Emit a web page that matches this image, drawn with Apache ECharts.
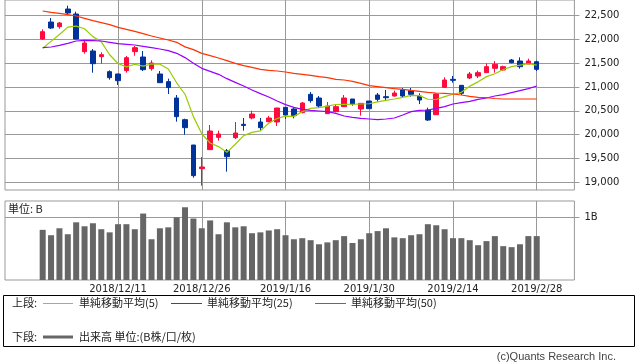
<!DOCTYPE html>
<html><head><meta charset="utf-8">
<script src="https://cdn.jsdelivr.net/npm/echarts@6/dist/echarts.min.js"></script>
<style>html,body{margin:0;padding:0;background:#fff}#c{width:638px;height:362px}</style>
</head><body><div id="c"></div>
<script>
// ---- data ----
const dates = ['2018/11/28','2018/11/29','2018/11/30','2018/12/3','2018/12/4','2018/12/5','2018/12/6','2018/12/7','2018/12/10','2018/12/11',
'2018/12/12','2018/12/13','2018/12/14','2018/12/17','2018/12/18','2018/12/19','2018/12/20','2018/12/21','2018/12/25','2018/12/26',
'2018/12/27','2018/12/28','2019/1/4','2019/1/7','2019/1/8','2019/1/9','2019/1/10','2019/1/11','2019/1/15','2019/1/16',
'2019/1/17','2019/1/18','2019/1/21','2019/1/22','2019/1/23','2019/1/24','2019/1/25','2019/1/28','2019/1/29','2019/1/30',
'2019/1/31','2019/2/1','2019/2/4','2019/2/5','2019/2/6','2019/2/7','2019/2/8','2019/2/12','2019/2/13','2019/2/14',
'2019/2/15','2019/2/18','2019/2/19','2019/2/20','2019/2/21','2019/2/22','2019/2/25','2019/2/26','2019/2/27','2019/2/28'];

const open  = [22010,22367,22269,22640,22535,21744,21758,21639,21324,21275, 21345,21744,21632,21387,21275,21114,20771,20316,19784,19287,
               19686,19945,19665,19938,20218,20351,20267,20274,20267,20575, 20540,20463,20848,20771,20442,20484,20589,20750,20540,20708,
               20834,20799,20813,20939,20925,20813,20519,20421,20995,21163, 21037,21191,21233,21303,21394,21359,21569,21548,21485,21534];
const close = [22164,22241,22346,22556,22010,21926,21492,21681,21198,21135, 21618,21828,21366,21506,21093,20990,20379,20148,19140,19322,
               20078,20015,19539,20036,20195,20435,20148,20351,20561,20414, 20400,20666,20715,20603,20603,20589,20771,20645,20659,20547,
               20743,20778,20876,20813,20848,20729,20309,20855,21149,21142, 20869,21275,21303,21429,21478,21429,21513,21429,21548,21373];
const low   = [21995,22220,22227,22514,22000,21702,21303,21492,21156,21044, 21303,21660,21338,21345,21085,20855,20274,20001,19098,18930,
               19686,19875,19224,19910,20085,20323,20085,20260,20183,20330, 20344,20449,20673,20561,20442,20470,20589,20610,20400,20547,
               20694,20708,20799,20785,20799,20645,20288,20421,20995,21093, 20834,21170,21191,21303,21303,21345,21499,21387,21485,21338];
const high  = [22213,22451,22367,22710,22584,21975,21800,21730,21352,21280, 21653,21863,21758,21562,21338,21177,20834,20337,19784,19532,
               20204,20085,19700,20267,20351,20505,20351,20393,20561,20575, 20575,20687,20897,20813,20687,20631,20834,20750,20659,20708,
               20876,20939,20925,20981,20981,20869,20568,20869,21205,21233, 21037,21317,21345,21499,21548,21450,21590,21625,21597,21555];

const ma5  = [21814,21960,22105,22260,22280,22225,22060,21950,21680,21495, 21425,21480,21440,21485,21480,21380,21090,20850,20380,20020,
              19825,19750,19630,19800,19980,20050,20080,20240,20340,20390, 20385,20485,20555,20570,20600,20635,20638,20640,20645,20650,
              20690,20720,20750,20785,20827,20820,20745,20740,20800,20850, 20890,21020,21110,21220,21280,21370,21430,21460,21490,21460];
const ma25 = [21828,21842,21877,21919,21968,21982,21975,21968,21940,21912, 21898,21884,21856,21828,21800,21765,21709,21619,21499,21394,
              21331,21268,21177,21100,21023,20939,20862,20792,20708,20631, 20575,20533,20512,20498,20484,20449,20393,20365,20344,20330,
              20316,20330,20351,20414,20484,20512,20519,20554,20589,20645, 20673,20701,20743,20771,20813,20841,20883,20925,20967,21023];
const ma50 = [22598,22570,22549,22521,22493,22444,22395,22353,22311,22255, 22213,22171,22122,22073,22031,21989,21940,21845,21786,21709,
              21660,21611,21555,21499,21450,21415,21373,21352,21338,21317, 21289,21268,21247,21219,21198,21163,21149,21121,21079,21030,
              21009,20988,20967,20953,20932,20911,20890,20876,20869,20855, 20834,20806,20785,20778,20760,20750,20750,20750,20750,20750];

// volume in billions of shares
const volume = [0.80,0.714,0.825,0.73,0.92,0.857,0.905,0.81,0.76,0.89, 0.89,0.81,1.06,0.65,0.825,0.84,1.0,1.16,0.98,0.825,
                0.95,0.73,0.92,0.84,0.857,0.746,0.76,0.79,0.81,0.714, 0.65,0.667,0.635,0.57,0.60,0.635,0.70,0.59,0.65,0.746,
                0.78,0.825,0.68,0.667,0.714,0.73,0.89,0.873,0.81,0.667, 0.667,0.635,0.555,0.62,0.70,0.54,0.524,0.57,0.70,0.70];

const xTickLabels = ['2018/12/11','2018/12/26','2019/1/16','2019/1/30','2019/2/14','2019/2/28'];
const priceTicks = [19000,19500,20000,20500,21000,21500,22000,22500];
const volTicks = [1];
const seriesNames = ['単純移動平均(5)','単純移動平均(25)','単純移動平均(50)'];

// ---- build ----
const PAD = 4;
const cats = Array.from({length: PAD}, (_, i) => 'padL' + i)
  .concat(dates, Array.from({length: PAD}, (_, i) => 'padR' + i));
const padArr = (arr, empty) => Array(PAD).fill(empty).concat(arr, Array(PAD).fill(empty));
const candleData = padArr(dates.map((d, i) => [open[i], close[i], low[i], high[i]]), ['-','-','-','-']);
const isLabel = (idx, val) => xTickLabels.indexOf(val) >= 0;

const GRID_LEFT = 5, GRID_W = 569.4;
const gray = '#999';
const fmt = v => String(v).replace(/\B(?=(\d{3})+(?!\d))/g, ',');
const axisFont = {fontFamily: 'DejaVu Sans', fontSize: 10, color: '#222'};
const cjk = '"Noto Sans CJK JP", sans-serif';

function xAxisFor(gi, showLabels) {
  return {
    type: 'category', gridIndex: gi, data: cats, boundaryGap: true,
    axisLine: {show: false}, axisTick: {show: false},
    axisLabel: Object.assign({show: showLabels, interval: isLabel, margin: 4}, axisFont),
    splitLine: {show: true, interval: isLabel, alignWithLabel: true, lineStyle: {color: gray, width: 1}}
  };
}

const option = {
  animation: false,
  backgroundColor: '#fff',
  grid: [
    {left: GRID_LEFT, width: GRID_W, top: 0, height: 190, show: true, borderColor: gray, borderWidth: 1},
    {left: GRID_LEFT, width: GRID_W, top: 201, height: 79, show: true, borderColor: gray, borderWidth: 1}
  ],
  xAxis: [xAxisFor(0, false), xAxisFor(1, true)],
  yAxis: [
    {type: 'value', gridIndex: 0, position: 'right', min: 18839, max: 22829,
     axisLine: {show: false},
     axisTick: {show: true, length: 5, customValues: priceTicks, lineStyle: {color: gray}},
     axisLabel: Object.assign({customValues: priceTicks, formatter: fmt, margin: 10}, axisFont),
     splitLine: {show: true, lineStyle: {color: gray, width: 1}}},
    {type: 'value', gridIndex: 1, position: 'right', min: 0, max: 1.26,
     axisLine: {show: false},
     axisTick: {show: true, length: 5, customValues: volTicks, lineStyle: {color: gray}},
     axisLabel: Object.assign({customValues: volTicks, formatter: v => v + 'B', margin: 10}, axisFont),
     splitLine: {show: true, lineStyle: {color: gray, width: 1}}}
  ],
  series: [
    {type: 'candlestick', xAxisIndex: 0, yAxisIndex: 0, data: candleData, barWidth: 5,
     itemStyle: {color: '#ff0a3c', color0: '#003399', borderColor: '#ff0a3c', borderColor0: '#003399', borderWidth: 1}},
    {type: 'line', name: seriesNames[0], xAxisIndex: 0, yAxisIndex: 0, data: padArr(ma5, '-'), symbol: 'none',
     lineStyle: {color: '#99cc00', width: 1.2}},
    {type: 'line', name: seriesNames[1], xAxisIndex: 0, yAxisIndex: 0, data: padArr(ma25, '-'), symbol: 'none',
     lineStyle: {color: '#9900ff', width: 1.2}},
    {type: 'line', name: seriesNames[2], xAxisIndex: 0, yAxisIndex: 0, data: padArr(ma50, '-'), symbol: 'none',
     lineStyle: {color: '#ff3300', width: 1.2}},
    {type: 'bar', name: '出来高', xAxisIndex: 1, yAxisIndex: 1, data: padArr(volume, '-'), barWidth: 6,
     itemStyle: {color: '#666666'}}
  ],
  graphic: [
    {type: 'text', left: 8, top: 203, style: {text: '単位: B', font: '11px ' + cjk, fill: '#222'}},
    // legend box
    {type: 'rect', shape: {x: 3.5, y: 295.5, width: 631, height: 51}, style: {fill: 'none', stroke: '#000', lineWidth: 1}},
    {type: 'text', x: 12, y: 303, style: {text: '上段:', font: '11px ' + cjk, fill: '#222', verticalAlign: 'middle'}},
    {type: 'line', shape: {x1: 43, y1: 303.5, x2: 73, y2: 303.5}, style: {stroke: '#99cc00', lineWidth: 1}},
    {type: 'text', x: 79, y: 303, style: {text: seriesNames[0], font: '11px ' + cjk, fill: '#222', verticalAlign: 'middle'}},
    {type: 'line', shape: {x1: 171, y1: 303.5, x2: 202, y2: 303.5}, style: {stroke: '#9900ff', lineWidth: 1}},
    {type: 'text', x: 207, y: 303, style: {text: seriesNames[1], font: '11px ' + cjk, fill: '#222', verticalAlign: 'middle'}},
    {type: 'line', shape: {x1: 315, y1: 303.5, x2: 346, y2: 303.5}, style: {stroke: '#ff3300', lineWidth: 1}},
    {type: 'text', x: 351, y: 303, style: {text: seriesNames[2], font: '11px ' + cjk, fill: '#222', verticalAlign: 'middle'}},
    {type: 'text', x: 12, y: 337, style: {text: '下段:', font: '11px ' + cjk, fill: '#222', verticalAlign: 'middle'}},
    {type: 'line', shape: {x1: 43, y1: 337, x2: 73, y2: 337}, style: {stroke: '#666', lineWidth: 3}},
    {type: 'text', x: 79, y: 337, style: {text: '出来高 単位:(B株/口/枚)', font: '11px ' + cjk, fill: '#222', verticalAlign: 'middle'}},
    {type: 'text', x: 616, y: 357, style: {text: '(c)Quants Research Inc.', font: '11px "Liberation Sans", sans-serif', fill: '#444', align: 'right', verticalAlign: 'middle'}}
  ]
};
echarts.init(document.getElementById('c'), null, {renderer: 'canvas'}).setOption(option);
</script></body></html>
